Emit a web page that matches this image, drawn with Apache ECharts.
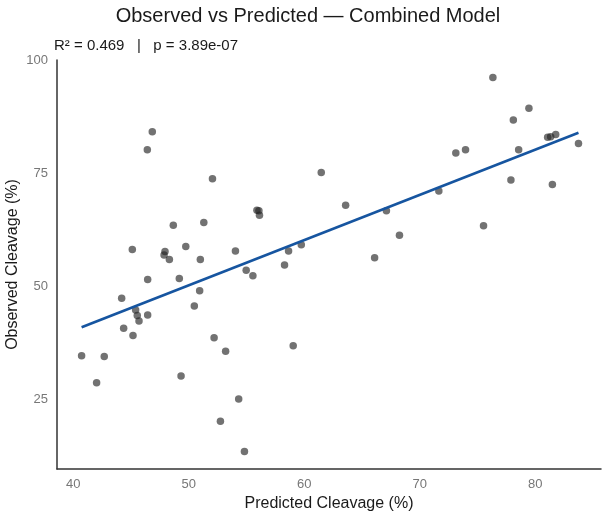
<!DOCTYPE html>
<html>
<head>
<meta charset="utf-8">
<script src="https://cdn.jsdelivr.net/npm/echarts@6/dist/echarts.min.js"></script>
<style>
    html, body {margin: 0; padding: 0; background: #fff;}
    #main {width: 606px; height: 516px;}
</style>
</head>
<body>
<div id="main"></div>
<script>
let predicted = [46.85, 46.42, 52.06, 48.67, 51.31, 45.12, 47.95, 47.87, 48.33, 49.75,
    54.05, 51.01, 61.48, 55.91, 56.08, 56.13, 63.59, 67.12, 68.25, 58.65,
    59.75, 66.1, 76.34, 79.46, 78.11, 81.08, 81.34, 81.78, 83.75, 73.13,
    73.97, 78.57, 77.9, 81.49, 71.66, 75.53, 46.45, 49.19, 44.2, 50.95,
    50.49, 45.41, 45.55, 45.7, 46.45, 44.37, 45.18, 52.2, 53.2, 40.73,
    42.69, 49.34, 42.03, 54.33, 52.75, 54.98, 55.56, 58.3, 59.05, 54.83];
let observed = [84.2, 80.2, 73.8, 63.5, 64.1, 58.1, 57.7, 56.9, 55.9, 58.8,
    57.8, 55.9, 75.2, 66.8, 66.7, 65.7, 67.9, 66.7, 61.3, 57.8,
    59.2, 56.3, 96.2, 89.4, 86.8, 83.0, 83.1, 83.6, 81.6, 79.5,
    80.2, 80.2, 73.5, 72.5, 71.1, 63.4, 51.5, 51.7, 47.3, 49.0,
    45.6, 44.7, 43.5, 42.3, 43.6, 40.7, 39.1, 38.6, 35.6, 34.6,
    34.4, 30.1, 28.6, 25.0, 20.1, 53.5, 52.3, 54.7, 36.8, 13.4];
// 回归线两端
let fitX = [40.73, 83.75];
let fitY = [40.9, 84.0];
let xTicks = [40, 50, 60, 70, 80];
let yTicks = [25, 50, 75, 100];

let font = '"Liberation Sans", Arial, sans-serif';

function eChartsInit() {
    let myChart = echarts.init(document.getElementById('main'), null, {renderer: 'canvas'});
    let points = [];
    for (let i = 0; i < predicted.length; i++) {
        points.push([predicted[i], observed[i]]);
    }
    let line = [];
    for (let i = 0; i < fitX.length; i++) {
        line.push([fitX[i], fitY[i]]);
    }
    let option = {
        animation: false,
        backgroundColor: '#fff',
        title: [
            {
                text: 'Observed vs Predicted \u2014 Combined Model',
                left: 303, top: 1, textAlign: 'center',
                textStyle: {fontFamily: font, fontSize: 20, fontWeight: 'normal', color: '#1a1a1a'}
            },
            {
                text: 'R\u00b2 = 0.469   |   p = 3.89e-07',
                left: 49, top: 33,
                textStyle: {fontFamily: font, fontSize: 15, fontWeight: 'normal', color: '#1a1a1a'}
            }
        ],
        grid: {left: 57, right: 5, top: 60, bottom: 47, outerBoundsMode: 'none', containLabel: false},
        xAxis: {
            type: 'value',
            min: 38.6,
            max: 85.7,
            name: 'Predicted Cleavage (%)',
            nameLocation: 'middle',
            nameGap: 27,
            nameMoveOverlap: false,
            nameTextStyle: {fontFamily: font, fontSize: 16, color: '#1a1a1a'},
            axisLine: {show: true, onZero: false, lineStyle: {color: '#333', width: 1.5}},
            axisTick: {show: false},
            splitLine: {show: false},
            axisLabel: {customValues: xTicks, fontFamily: font, fontSize: 13, color: '#777', margin: 9}
        },
        yAxis: {
            type: 'value',
            min: 9.5,
            max: 100.1,
            name: 'Observed Cleavage (%)',
            nameLocation: 'middle',
            nameGap: 36,
            nameMoveOverlap: false,
            nameTextStyle: {fontFamily: font, fontSize: 16, color: '#1a1a1a'},
            axisLine: {show: true, onZero: false, lineStyle: {color: '#333', width: 1.5}},
            axisTick: {show: false},
            splitLine: {show: false},
            axisLabel: {customValues: yTicks, fontFamily: font, fontSize: 13, color: '#777', margin: 9}
        },
        series: [
            {
                type: 'scatter',
                data: points,
                symbolSize: 7.5,
                itemStyle: {color: 'rgba(35,35,35,0.8)'}
            },
            {
                type: 'line',
                data: line,
                showSymbol: false,
                lineStyle: {color: '#1655a0', width: 2.6}
            }
        ]
    };
    myChart.setOption(option);
}

eChartsInit();
</script>
</body>
</html>
